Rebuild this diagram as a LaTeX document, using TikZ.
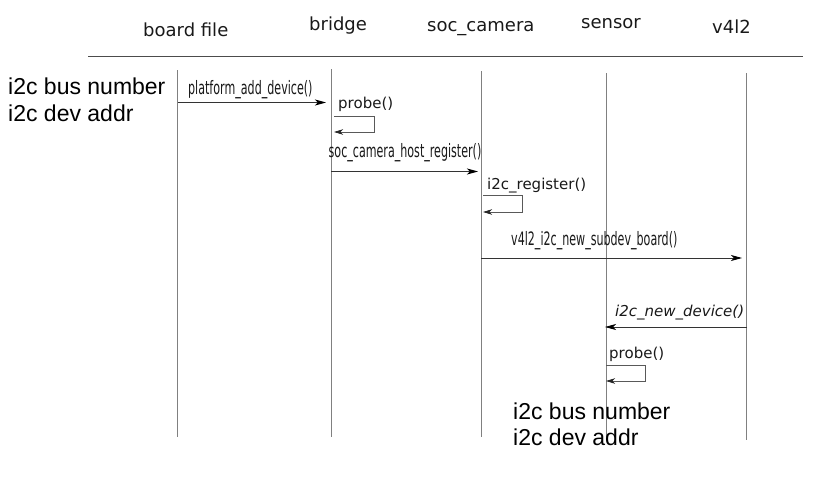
\documentclass[tikz,border=0pt]{standalone}
\usepackage{fontspec}
\setmainfont{DejaVu Sans}
\newfontfamily\bigfont{Liberation Sans}
\usepackage{graphicx}
\usetikzlibrary{arrows.meta}
\newcommand{\cnd}[1]{\scalebox{0.6}[1]{#1}}
\begin{document}
\begin{tikzpicture}[x=1pt,y=-1pt,
  lifeline/.style={draw=black!50, line width=0.9pt},
  rule/.style={draw=black!70, line width=0.9pt},
  msg/.style={draw=black!80, line width=0.8pt, -{Stealth[length=11pt,width=6pt,inset=3pt,black]}},
  selfmsg/.style={draw=black!65, line width=0.8pt, -{Stealth[length=9pt,width=5.5pt,inset=2.5pt,black!85]}},
  head/.style={font=\fontsize{18}{20}\selectfont, anchor=base west, inner sep=0pt, text=black!90},
  lbl/.style={font=\fontsize{15}{17}\selectfont, anchor=base west, inner sep=0pt, text=black!90},
  clbl/.style={font=\fontsize{18.5}{20}\selectfont, anchor=base west, inner sep=0pt, text=black!90},
  big/.style={font=\bigfont\fontsize{23}{26.5}\selectfont, anchor=base west, inner sep=0pt, align=left}
]
\useasboundingbox (0,0) rectangle (820,479);

% headers
\node[head] (hbf) at (143,36) {board file};
\node[head] (hbr) at (309,30.5) {bridge};
\node[head] (hsc) at (427,31) {soc\_camera};
\node[head] (hse) at (581,28) {sensor};
\node[head] (hv) at (712,33) {v4l2};

\coordinate (ruleL) at (88,56);
\coordinate (ruleR) at (803,56);
\draw[rule] (ruleL) -- (ruleR);

% lifelines
\coordinate (bfT) at (177,70);  \coordinate (bfB) at (177,437);
\coordinate (brT) at (331,69);  \coordinate (brB) at (331,437);
\coordinate (scT) at (481,71);  \coordinate (scB) at (481,437);
\coordinate (seT) at (606,73);  \coordinate (seB) at (606,437);
\coordinate (vT)  at (746,73);  \coordinate (vB)  at (746,440);
\draw[lifeline] (bfT) -- (bfB);
\draw[lifeline] (brT) -- (brB);
\draw[lifeline] (scT) -- (scB);
\draw[lifeline] (seT) -- (seB);
\draw[lifeline] (vT) -- (vB);

% message 1
\coordinate (bf1) at (178,102.5);
\coordinate (br1) at (331,102.5);
\draw[msg, shorten >=5pt] (bf1) -- (br1);
\node[clbl] (l1) at (188,94.5) {\cnd{platform\_add\_device()}};

% self probe bridge
\coordinate (brS) at (334,116);
\coordinate (brE) at (334,132);
\draw[selfmsg] (brS) -- (374,116) |- (brE);
\node[lbl] (l2) at (338,108) {probe()};

% message 2
\coordinate (br2) at (331,171.5);
\coordinate (sc2) at (481,171.5);
\draw[msg, shorten >=3pt] (br2) -- (sc2);
\node[clbl] (l3) at (328.5,157.5) {\cnd{soc\_camera\_host\_register()}};

% self i2c_register
\coordinate (scS) at (483,195.5);
\coordinate (scE) at (483,212);
\draw[selfmsg] (scS) -- (522,195.5) |- (scE);
\node[lbl] (l4) at (487,189) {i2c\_register()};

% message 3
\coordinate (sc3) at (481,258);
\coordinate (v3) at (746,258);
\draw[msg, shorten >=4pt] (sc3) -- (v3);
\node[clbl] (l5) at (511,245.5) {\cnd{v4l2\_i2c\_new\_subdev\_board()}};

% message 4
\coordinate (v4) at (747,327);
\coordinate (se4) at (605,327);
\draw[msg] (v4) -- (se4);
\node[lbl, font=\fontsize{15}{17}\selectfont\itshape] (l6) at (615,316.5) {i2c\_new\_device()};

% self probe sensor
\coordinate (seS) at (606,365);
\coordinate (seE) at (606,381);
\draw[selfmsg] (seS) -- (645,365) |- (seE);
\node[lbl] (l7) at (609,358) {probe()};

% big texts
\node[big] (t1a) at (8,94.5) {i2c bus number};
\node[big] (t1b) at (8,121) {i2c dev addr};
\node[big] (t2a) at (513,419) {i2c bus number};
\node[big] (t2b) at (513,445) {i2c dev addr};
\end{tikzpicture}
\end{document}
